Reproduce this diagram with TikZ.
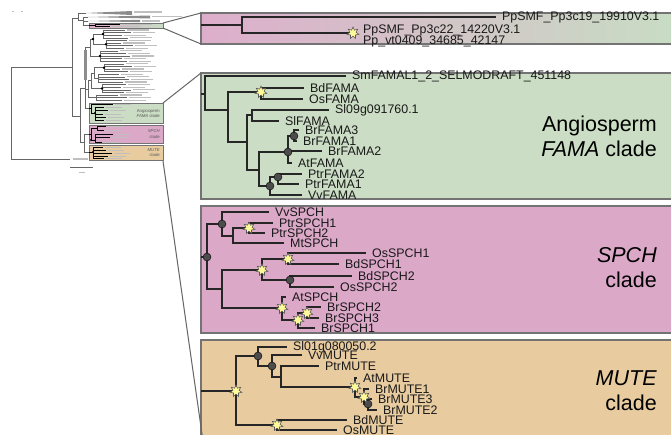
\documentclass[tikz,border=0pt]{standalone}
\usepackage{fontspec}
\setmainfont{Liberation Sans}
\usetikzlibrary{positioning,shapes.geometric}

\definecolor{famafill}{HTML}{CBDDC4}
\definecolor{spchfill}{HTML}{DCA8C8}
\definecolor{mutefill}{HTML}{E8CCA0}
\definecolor{smfpink}{HTML}{DDAECB}
\definecolor{smfgreen}{HTML}{C8DCC4}

\begin{document}
\begin{tikzpicture}[x=1pt,y=-1pt,
  branch/.style={line width=1.5pt,draw=black!85},
  panel/.style={draw=black!55,line width=1.2pt},
  minibox/.style={draw=black!55,line width=0.7pt},
  funnel/.style={draw=black!60,line width=1pt},
  dup/.style={circle,draw=black,fill=black!70,inner sep=0pt,minimum size=8pt},
  spec/.style={star,star points=7,star point ratio=1.9,draw=black!65,fill=yellow!40,
    inner sep=0pt,minimum size=12pt,line width=0.6pt},
  taxon/.style={inner sep=0pt,font=\fontsize{12.4}{14}\selectfont,text=black!90},
  cladelbl/.style={anchor=east,align=right,inner sep=0pt,font=\fontsize{21.5}{25}\selectfont},
  ovl/.style={draw=black!60,line width=0.6pt},
  ovtxt/.style={draw=black!25,line width=1.3pt},
  minilbl/.style={anchor=east,align=right,inner sep=0pt,font=\fontsize{4.3}{5.5}\selectfont,text=black!65}]
\useasboundingbox (0,0) rectangle (671,434);
\clip (0,0) rectangle (671,434);

% enlarged panels
\shade[left color=smfpink,right color=smfgreen] (201,13) rectangle (672,44);
\draw[panel] (201,13) rectangle (672,44);
\draw[panel,fill=famafill] (201,73) rectangle (672,199);
\draw[panel,fill=spchfill] (201,206) rectangle (672,333);
\draw[panel,fill=mutefill] (201,340) rectangle (672,450);

% overview tree
\draw[ovl] (72,67) -- (11,67) |- (70,159);
\draw[ovtxt] (73,159) -- (88,159);
\draw[ovl] (72,18) -- (72,116);
\draw[ovl] (72,18) -- (78,18) (78,13) -- (78,20) (78,13) -- (86,13) (78,20) -- (83,20)
  (83,17) -- (83,25.5) (83,17) -- (88,17) (83,21) -- (88,21) (83,25.5) -- (89,25.5);
\fill[black!45] (86,13) -- (132,11) -- (132,15) -- cycle;
\fill[black!45] (88,17) -- (150,15.5) -- (150,18.5) -- cycle;
\fill[black!45] (88,21) -- (140,19.8) -- (140,22.2) -- cycle;
\draw[ovtxt] (134,12) -- (162,12) (152,16.5) -- (182,16.5) (142,21) -- (160,21);
\draw[ovtxt,line width=0.8pt] (12,11) -- (14,11) (21,11) -- (23,11);
\foreach \a/\y/\b in {103/30/125,103/32.6/131,103/35.2/122,103/37.8/128,
  106/40.4/127,106/43/121,106/45.6/133,106/48.2/124,
  100/50.8/118,100/53.4/126,100/56/130,100/58.6/122,100/61.2/127,
  104/63.8/124,104/66.4/132,104/69/120,104/71.6/128,
  98/74.2/119,98/76.8/125,98/79.4/129,98/82/123,
  102/84.6/126,102/87.2/121,102/89.8/131,102/92.4/124,
  96/95/118,96/97.6/127,96/100.2/122}
  {\draw[ovl] (\a,\y) -- (\b,\y); \draw[ovtxt] (\b+2,\y) -- (\b+24,\y);}
\draw[ovl] (103,30) -- (103,37.8) (106,40.4) -- (106,48.2) (100,50.8) -- (100,61.2)
  (104,63.8) -- (104,71.6) (98,74.2) -- (98,82) (102,84.6) -- (102,92.4) (96,95) -- (96,100.2);
\draw[ovl] (93,33.9) -- (93,44.3) (93,33.9) -- (103,33.9) (93,44.3) -- (106,44.3)
  (90,39) -- (90,56) (90,39) -- (93,39) (90,56) -- (100,56)
  (94,67.7) -- (94,78.1) (94,67.7) -- (104,67.7) (94,78.1) -- (98,78.1)
  (91,72.9) -- (91,88.5) (91,72.9) -- (94,72.9) (91,88.5) -- (102,88.5)
  (88,80.7) -- (88,97.6) (88,80.7) -- (91,80.7) (88,97.6) -- (96,97.6)
  (85,47.5) -- (85,108) (85,47.5) -- (90,47.5) (85,89) -- (88,89) (85,108) -- (89,108);
\fill[black!45] (84,50) rectangle (86.5,80);
\draw[ovl] (72,116) -- (80,116) (80,88) -- (80,142) (80,88) -- (85,88) (80,142) -- (84,142)
  (84,134) -- (84,152) (84,134) -- (89,134) (84,152) -- (89,152);
\foreach \p in {(103,33.9),(106,44.3),(100,56),(104,67.7),(102,88.5),(93,39)}
  \fill[black] \p circle (1.4);
\draw[ovl] (70,167) -- (93,167);
\draw[ovtxt,line width=0.8pt] (79,172) -- (85,172);

% overview boxes
\shade[left color=smfpink,right color=smfgreen] (89,23) rectangle (163,28);
\draw[minibox] (89,23) rectangle (163,28);
\draw[ovl,black] (89,25.5) -- (95,25.5) (95,24.5) -- (95,26.5) (95,24.5) -- (120,24.5) (95,26.5) -- (110,26.5);
\draw[ovtxt,line width=0.9pt] (122,24.5) -- (152,24.5) (112,26.7) -- (140,26.7);
\draw[minibox,fill=famafill] (89,103) rectangle (163,123);
\draw[minibox,fill=spchfill] (89,125) rectangle (163,143);
\draw[minibox,fill=mutefill] (89,145) rectangle (163,160);
\draw[ovl,black] (89,108) -- (91,108) (91,104.5) -- (91,113) (91,104.5) -- (113,104.5) (91,113) -- (95,113)
  (95,107) -- (95,120) (95,107) -- (104,107) (95,110) -- (108,110) (95,114) -- (103,114)
  (95,117) -- (106,117) (95,120) -- (104,120);
\draw[ovl,black] (89,134) -- (91,134) (91,128) -- (91,140) (91,128) -- (97,128) (97,126.5) -- (97,130)
  (97,126.5) -- (106,126.5) (97,130) -- (104,130) (91,140) -- (95,140) (95,134) -- (95,142)
  (95,134) -- (113,134) (95,137) -- (110,137) (95,142) -- (102,142);
\draw[ovl,black] (89,152) -- (93,152) (93,147) -- (93,158) (93,147) -- (103,147) (93,150) -- (106,150)
  (93,153) -- (112,153) (93,156) -- (108,156) (93,158) -- (104,158);
\foreach \y/\b in {104.5/113,107/104,110/108,114/103,117/106,120/104,126.5/106,130/104,
  134/113,137/110,142/102,147/103,150/106,153/112,156/108,158/104}
  \draw[ovtxt,line width=0.9pt] (\b+2,\y) -- (\b+18,\y);
\fill[black] (95,113) circle (1.2) (91,140) circle (1.2) (93,152) circle (1.2);
\node[minilbl] (mfama) at (160,113.5) {Angiosperm\\\textit{FAMA} clade};
\node[minilbl] (mspch) at (160,134) {\textit{SPCH}\\clade};
\node[minilbl] (mmute) at (160,152.5) {\textit{MUTE}\\clade};

% funnels
\coordinate (qa) at (163,23);  \coordinate (pa) at (201,13);
\coordinate (qb) at (163,28);  \coordinate (pb) at (201,44);
\coordinate (qc) at (163,103); \coordinate (pc) at (201,73);
\coordinate (qd) at (163,161); \coordinate (pd) at (204,448);
\draw[funnel] (qa) -- (pa) (qb) -- (pb) (qc) -- (pc) (qd) -- (pd);

% SMF panel
\coordinate (m0) at (201,25);  \coordinate (m1) at (242,25);
\coordinate (mT) at (496,17);  \coordinate (ms) at (353,33);
\coordinate (mU) at (357,30);  \coordinate (mV) at (357,41);
\draw[branch] (m0) -- (m1) (m1) |- (mT) (m1) |- (ms);
\node[spec] (sm) at (ms) {};
\node[taxon,right=6pt of mT] (lmT) {PpSMF\_Pp3c19\_19910V3.1};
\node[taxon,right=6pt of mU] (lmU) {PpSMF\_Pp3c22\_14220V3.1};
\node[taxon,right=6pt of mV] (lmV) {Pp\_vt0409\_34685\_42147};

% FAMA panel
\coordinate (g0) at (201,94);  \coordinate (g1) at (205,94);
\coordinate (g2) at (228,110); \coordinate (g3) at (261,92);
\coordinate (g4) at (247,142); \coordinate (g5) at (252,115);
\coordinate (g6) at (259,170); \coordinate (g7) at (288,152);
\coordinate (g8) at (270,186); \coordinate (g9) at (294,136);
\coordinate (g10) at (278,177);
\coordinate (tSm) at (346,76);  \coordinate (tBd) at (304,88);
\coordinate (tOs) at (303,99);  \coordinate (tSl) at (329,110);
\coordinate (tSlF) at (279,121); \coordinate (tBrc) at (299,130);
\coordinate (tBra) at (297,141); \coordinate (tBrb) at (322,151);
\coordinate (tAt) at (292,163);  \coordinate (tPtrb) at (302,174);
\coordinate (tPtra) at (299,184); \coordinate (tVv) at (302,195);
\foreach \p/\c in {g0/g1,g1/tSm,g1/g2,g2/g3,g2/g4,g3/tBd,g3/tOs,g4/g5,g4/g6,g5/tSl,g5/tSlF,
  g6/g7,g6/g8,g7/g9,g7/tBrb,g7/tAt,g9/tBrc,g9/tBra,g8/g10,g8/tVv,g10/tPtrb,g10/tPtra}
  \draw[branch] (\p) |- (\c);
\node[spec] (sg3) at (g3) {};
\foreach \n in {g7,g8,g9,g10} \node[dup] (d\n) at (\n) {};
\foreach \t/\s in {tSm/SmFAMAL1\_2\_SELMODRAFT\_451148,tBd/BdFAMA,tOs/OsFAMA,tSl/Sl09g091760.1,
  tSlF/SlFAMA,tBrc/BrFAMA3,tBra/BrFAMA1,tBrb/BrFAMA2,tAt/AtFAMA,tPtrb/PtrFAMA2,
  tPtra/PtrFAMA1,tVv/VvFAMA}
  \node[taxon,right=6pt of \t] (l\t) {\s};
\node[cladelbl] (cfama) at (657,136.5) {Angiosperm\\\textit{FAMA} clade};

% SPCH panel
\coordinate (p0) at (201,257);  \coordinate (p1) at (207,257);
\coordinate (p2) at (222,224);  \coordinate (p3) at (222,289);
\coordinate (p4) at (233,236);  \coordinate (p5) at (249,228);
\coordinate (p6) at (262,270);  \coordinate (p7) at (282,308);
\coordinate (p8) at (288,259);  \coordinate (p9) at (290,280);
\coordinate (p10) at (298,320); \coordinate (p11) at (307,313);
\coordinate (sVv) at (269,212);   \coordinate (sPtra) at (273,223);
\coordinate (sPtrb) at (265,233); \coordinate (sMt) at (284,243);
\coordinate (sOsa) at (366,253);  \coordinate (sBda) at (339,264);
\coordinate (sBdb) at (352,276);  \coordinate (sOsb) at (334,287);
\coordinate (sAt) at (286,297);   \coordinate (sBrb) at (321,307);
\coordinate (sBrc) at (319,318);  \coordinate (sBra) at (315,328);
\foreach \p/\c in {p0/p1,p1/p2,p1/p3,p2/sVv,p2/p4,p4/p5,p4/sMt,p5/sPtra,p5/sPtrb,
  p3/p6,p3/p7,p6/p8,p6/p9,p8/sOsa,p8/sBda,p9/sBdb,p9/sOsb,p7/sAt,p7/p10,
  p10/p11,p10/sBra,p11/sBrb,p11/sBrc}
  \draw[branch] (\p) |- (\c);
\foreach \n in {p1,p2,p9} \node[dup] (d\n) at (\n) {};
\foreach \n in {p5,p6,p7,p8,p10,p11} \node[spec] (s\n) at (\n) {};
\foreach \t/\s in {sVv/VvSPCH,sPtra/PtrSPCH1,sPtrb/PtrSPCH2,sMt/MtSPCH,sOsa/OsSPCH1,
  sBda/BdSPCH1,sBdb/BdSPCH2,sOsb/OsSPCH2,sAt/AtSPCH,sBrb/BrSPCH2,sBrc/BrSPCH3,sBra/BrSPCH1}
  \node[taxon,right=6pt of \t] (l\t) {\s};
\node[cladelbl] (cspch) at (657,267.5) {\textit{SPCH}\\clade};

% MUTE panel
\coordinate (o0) at (201,391);  \coordinate (o1) at (236,391);
\coordinate (o2) at (258,356);  \coordinate (o3) at (277,425);
\coordinate (o4) at (272,366);  \coordinate (o5) at (281,377);
\coordinate (o6) at (355,387);  \coordinate (o7) at (364,397);
\coordinate (o8) at (368,404);
\coordinate (uSl) at (287,347);   \coordinate (uVv) at (302,355);
\coordinate (uPtr) at (319,366);  \coordinate (uAt) at (357,378);
\coordinate (uBra) at (369,389);  \coordinate (uBrc) at (372,399);
\coordinate (uBrb) at (377,410);  \coordinate (uBd) at (347,420);
\coordinate (uOs) at (337,430);
\foreach \p/\c in {o0/o1,o1/o2,o1/o3,o2/uSl,o2/o4,o4/uVv,o4/o5,o5/uPtr,o5/o6,
  o6/uAt,o6/o7,o7/uBra,o7/o8,o8/uBrc,o8/uBrb,o3/uBd,o3/uOs}
  \draw[branch] (\p) |- (\c);
\foreach \n in {o2,o4,o8} \node[dup] (d\n) at (\n) {};
\foreach \n in {o1,o3,o6,o7} \node[spec] (s\n) at (\n) {};
\foreach \t/\s in {uSl/Sl01g080050.2,uVv/VvMUTE,uPtr/PtrMUTE,uAt/AtMUTE,uBra/BrMUTE1,
  uBrc/BrMUTE3,uBrb/BrMUTE2,uBd/BdMUTE,uOs/OsMUTE}
  \node[taxon,right=6pt of \t] (l\t) {\s};
\node[cladelbl] (cmute) at (657,390.5) {\textit{MUTE}\\clade};
\end{tikzpicture}
\end{document}
